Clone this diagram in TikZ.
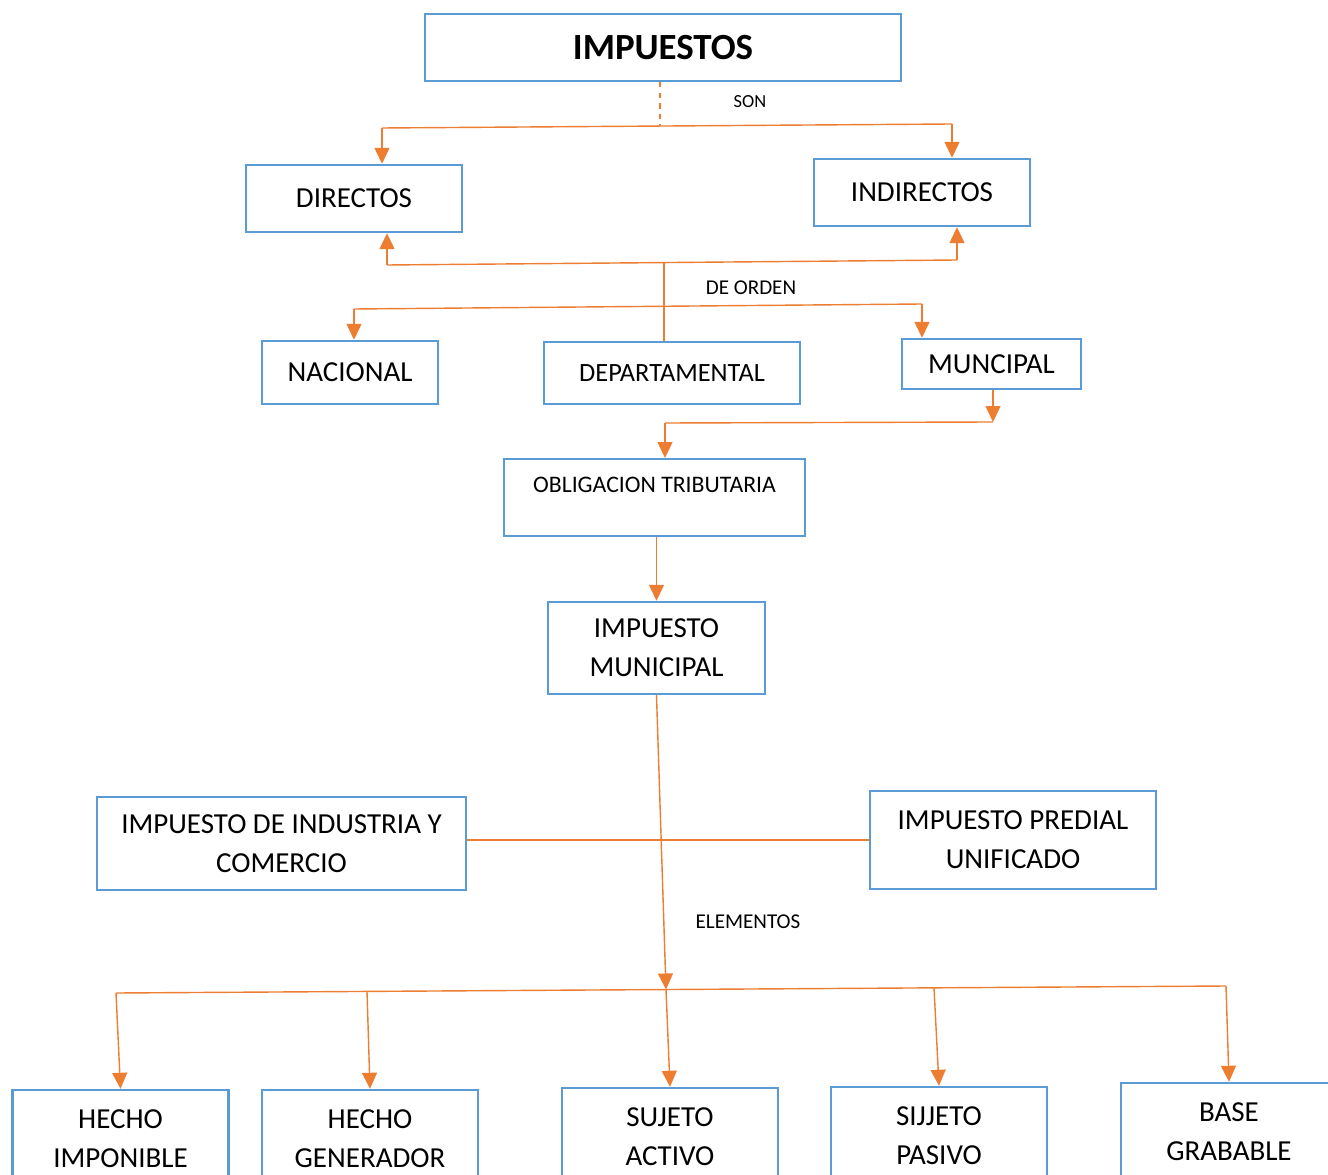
\documentclass[tikz,border=0pt]{standalone}
\usepackage{fontspec}
\setmainfont{Carlito}
\usetikzlibrary{arrows.meta}

\definecolor{BoxBlue}{HTML}{5B9BD5}
\definecolor{Link}{HTML}{ED7D31}

\tikzset{
  box/.style={draw=BoxBlue, line width=1.4pt, inner sep=0pt, align=center, font=\fontsize{16.5}{22}\selectfont},
  link/.style={draw=Link, line width=0.8pt},
  arrow/.style={link, -{Triangle[length=0.32cm, width=0.3cm]}},
  uarrow/.style={link, {Triangle[length=0.32cm, width=0.3cm]}-},
  lbl/.style={inner sep=0pt, font=\fontsize{12}{14}\selectfont}
}

\begin{document}
\begin{tikzpicture}[x=0.02cm, y=-0.02cm]

 \useasboundingbox (0,0) rectangle (1328,1175);

 %%%%%%%%%% Boxes %%%%%%%%%%
 \node[box, minimum width=9.52cm, minimum height=1.34cm, font=\fontsize{21}{24}\selectfont\bfseries] (imp) at (663,47.5) {IMPUESTOS};
 \node[box, minimum width=4.32cm, minimum height=1.34cm] (dir) at (354,198.5) {DIRECTOS};
 \node[box, minimum width=4.32cm, minimum height=1.34cm] (ind) at (922,192.5) {INDIRECTOS};

 \node[box, minimum width=3.52cm, minimum height=1.26cm] (nac) at (350,372.5) {NACIONAL};
 \node[box, minimum width=5.12cm, minimum height=1.24cm, font=\fontsize{15}{18}\selectfont] (dep) at (672,373) {DEPARTAMENTAL};
 \node[box, minimum width=3.58cm, minimum height=1.0cm] (mun) at (991.5,364) {MUNCIPAL};

 \node[box, anchor=north, minimum width=6.02cm, text height=0.66cm, text depth=0.88cm, font=\fontsize{13.5}{16}\selectfont] (obl) at (654.5,458) {OBLIGACION TRIBUTARIA};
 \node[box, minimum width=4.34cm, minimum height=1.84cm] (imu) at (656.5,648) {IMPUESTO\\MUNICIPAL};

 \node[box, minimum width=7.38cm, minimum height=1.86cm] (inc) at (281.5,843.5) {IMPUESTO DE INDUSTRIA Y\\COMERCIO};
 \node[box, minimum width=5.72cm, minimum height=1.96cm] (pre) at (1013,840) {IMPUESTO PREDIAL\\UNIFICADO};

 \node[box, minimum width=4.32cm, minimum height=1.96cm] (himp) at (120.5,1139) {HECHO\\IMPONIBLE};
 \node[box, minimum width=4.32cm, minimum height=1.96cm] (hgen) at (370,1139) {HECHO\\GENERADOR};
 \node[box, minimum width=4.32cm, minimum height=1.96cm] (sact) at (670,1137) {SUJETO\\ACTIVO};
 \node[box, minimum width=4.32cm, minimum height=1.96cm] (spas) at (939,1136) {SIJJETO\\PASIVO};
 \node[box, minimum width=4.32cm, minimum height=1.96cm] (bgra) at (1229,1132) {BASE\\GRABABLE};

 %%%%%%%%%% Labels %%%%%%%%%%
 \node[lbl, font=\fontsize{10.5}{12}\selectfont] (son) at (750,102) {SON};
 \node[lbl] (orden) at (751,288) {DE ORDEN};
 \node[lbl] (elem) at (748,922) {ELEMENTOS};

 %%%%%%%%%% Points pour les barres %%%%%%%%%%
 \coordinate (sonM) at (660,126);
 \coordinate (sonL) at (382,128);
 \coordinate (sonR) at (952,124);

 \coordinate (ordM) at (664,263);
 \coordinate (ordL) at (387,265);
 \coordinate (ordR) at (957,260);

 \coordinate (deL) at (354,309);
 \coordinate (deR) at (922,304);

 \coordinate (munB) at (993,422);
 \coordinate (oblT) at (665,423);

 \coordinate (eM) at (666,989.5);
 \coordinate (e1) at (116,993);
 \coordinate (e2) at (367,991.4);
 \coordinate (e4) at (934,987.8);
 \coordinate (e5) at (1226,986);

 %%%%%%%%%% SON %%%%%%%%%%
 \draw [link, dashed] (imp.south -| sonM) -- (sonM) ;
 \draw [link] (sonL) -- (sonR) ;
 \draw [arrow] (sonL) -- (sonL |- dir.north) ;
 \draw [arrow] (sonR) -- (sonR |- ind.north) ;

 %%%%%%%%%% DE ORDEN %%%%%%%%%%
 \draw [link] (ordM |- dep.north) -- (ordM) ;
 \draw [link] (ordL) -- (ordR) ;
 \draw [uarrow] (ordL |- dir.south) -- (ordL) ;
 \draw [uarrow] (ordR |- ind.south) -- (ordR) ;

 \draw [link] (deL) -- (deR) ;
 \draw [arrow] (deL) -- (deL |- nac.north) ;
 \draw [arrow] (deR) -- (deR |- mun.north) ;

 %%%%%%%%%% Obligacion %%%%%%%%%%
 \draw [arrow] (munB |- mun.south) -- (munB) ;
 \draw [link] (munB) -- (oblT) ;
 \draw [arrow] (oblT) -- (oblT |- obl.north) ;
 \draw [arrow] (obl.south -| imu.north) -- (imu.north) ;

 %%%%%%%%%% Impuesto municipal %%%%%%%%%%
 \draw [link] (inc.east |- pre.west) -- (pre.west) ;
 \draw [arrow] (imu.south) -- (eM) ;

 %%%%%%%%%% ELEMENTOS %%%%%%%%%%
 \draw [link] (e1) -- (e5) ;
 \draw [arrow] (e1) -- (himp.north) ;
 \draw [arrow] (e2) -- (hgen.north) ;
 \draw [arrow] (eM) -- (sact.north) ;
 \draw [arrow] (e4) -- (spas.north) ;
 \draw [arrow] (e5) -- (bgra.north) ;

\end{tikzpicture}
\end{document}
